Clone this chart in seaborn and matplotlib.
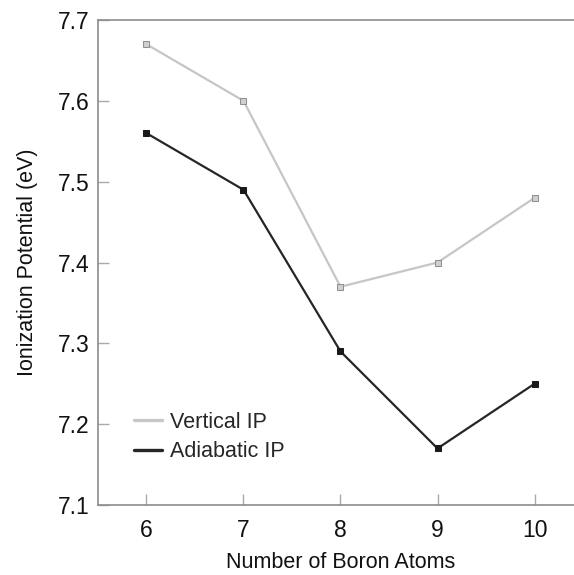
import matplotlib
matplotlib.use("Agg")
import matplotlib.pyplot as plt
import seaborn as sns
import pandas as pd
from matplotlib.lines import Line2D

boron_atoms = [6, 7, 8, 9, 10]
vertical_ip = [7.67, 7.60, 7.37, 7.40, 7.48]
adiabatic_ip = [7.56, 7.49, 7.29, 7.17, 7.25]
series_names = ["Vertical IP", "Adiabatic IP"]
y_ticks = [7.1, 7.2, 7.3, 7.4, 7.5, 7.6, 7.7]

sns.set_style("white")
plt.rcParams['font.family'] = ['Liberation Sans', 'DejaVu Sans']

df = pd.DataFrame({
    "Number of Boron Atoms": boron_atoms * 2,
    "IP": vertical_ip + adiabatic_ip,
    "Series": [series_names[0]] * 5 + [series_names[1]] * 5,
})

fig = plt.figure(figsize=(5.74, 5.75), dpi=100)
ax = fig.add_axes([0.1707, 0.1217, 0.845, 0.8435])

palette = {series_names[0]: "#c6c6c6", series_names[1]: "#262626"}
sns.lineplot(data=df, x="Number of Boron Atoms", y="IP", hue="Series",
             palette=palette, marker="s", markersize=5, linewidth=1.6,
             ax=ax, legend=False)
lines = ax.get_lines()
lines[0].set_markeredgecolor("#909090")
lines[0].set_markerfacecolor("#d0d0d0")
lines[1].set_markeredgecolor("#1a1a1a")
lines[1].set_markerfacecolor("#1a1a1a")

ax.set_xlim(5.5, 10.5)
ax.set_ylim(7.1, 7.7)
ax.set_xticks(boron_atoms)
ax.set_yticks(y_ticks)
ax.set_yticklabels([f"{v:.1f}" for v in y_ticks])
ax.tick_params(axis="both", which="major", direction="in", length=8, width=1,
               color="#aaaaaa", labelsize=16.5, labelcolor="#111111",
               left=True, bottom=True)
ax.tick_params(axis="y", pad=6)
ax.tick_params(axis="x", pad=10)
for s in ["left", "bottom", "top"]:
    ax.spines[s].set_color("#8c8c8c")
    ax.spines[s].set_linewidth(1.2)
ax.spines["right"].set_visible(False)

ax.set_xlabel("Number of Boron Atoms", fontsize=15.5, labelpad=7, color="#111111")
ax.set_ylabel("Ionization Potential (eV)", fontsize=15.5, labelpad=14, color="#111111")

handles = [Line2D([], [], color="#c6c6c6", lw=2.4), Line2D([], [], color="#262626", lw=2.4)]
ax.legend(handles, series_names, loc="lower left",
          bbox_to_anchor=(0.056, 0.07), frameon=False, fontsize=15.5,
          handlelength=1.3, handletextpad=0.4, labelspacing=0.4,
          borderaxespad=0)

fig.savefig("out.png", dpi=100)
